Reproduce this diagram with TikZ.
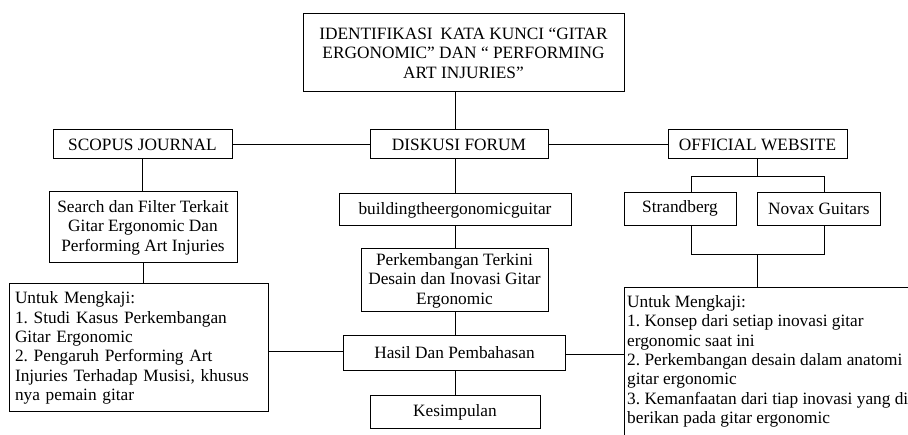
\documentclass[tikz,border=0pt]{standalone}
\usepackage{fontspec}
\setmainfont{Liberation Serif}
\usetikzlibrary{calc}
\newcommand\dfont{\fontsize{17.3}{19.4}\selectfont}
\frenchspacing
\begin{document}
\begin{tikzpicture}[x=1pt,y=-1pt,
  box/.style={draw, line width=1pt, inner sep=0pt, align=center, font=\dfont},
  ln/.style={line width=1pt}]
\useasboundingbox (0,0) rectangle (908,435);
\fill[white] (0,0) rectangle (908,435);
\clip (0,0) rectangle (908,435);

% nodes
\node[box, minimum width=321pt, minimum height=78pt] (top) at (463.5,53)
  {IDENTIFIKASI\hspace{0.2em} KATA KUNCI “GITAR\\ERGONOMIC” DAN “ PERFORMING\\ART INJURIES”};
\node[box, minimum width=179pt, minimum height=29pt] (scopus) at (142.5,144.5) {SCOPUS JOURNAL};
\node[box, minimum width=178pt, minimum height=29pt] (diskusi) at (459,144.5) {DISKUSI FORUM};
\node[box, minimum width=179pt, minimum height=29pt] (official) at (757.5,144.5) {OFFICIAL WEBSITE};
\node[box, minimum width=188pt, minimum height=71pt] (search) at (143,227.5)
  {Search dan Filter Terkait\\Gitar Ergonomic Dan\\Performing Art Injuries};
\node[box, align=left, text width=247pt, minimum width=259pt, minimum height=128pt] (leftu) at (138.5,348)
  {Untuk Mengkaji:\\1. Studi Kasus Perkembangan\\Gitar Ergonomic\\2. Pengaruh Performing Art\\Injuries Terhadap Musisi, khusus\\nya pemain gitar};
\node[box, minimum width=232pt, minimum height=32pt] (build) at (455,210) {buildingtheergonomicguitar};
\node[box, minimum width=187pt, minimum height=63pt] (perk) at (454.5,280.5)
  {Perkembangan Terkini\\Desain dan Inovasi Gitar\\Ergonomic};
\node[box, minimum width=222pt, minimum height=34.5pt] (hasil) at (454.5,352.9) {Hasil Dan Pembahasan};
\node[box, minimum width=170pt, minimum height=33pt] (kes) at (455,412.5) {Kesimpulan};
\node[box, minimum width=112pt, minimum height=33pt] (strand) at (680,208.7) {Strandberg};
\node[box, minimum width=123pt, minimum height=33pt] (novax) at (818.8,208.7) {Novax Guitars};
\node[box, anchor=north west, minimum width=330pt, minimum height=190pt] (rbox) at (624,287.5) {};
\node[anchor=north west, align=left, inner sep=0pt, font=\dfont] (rtext) at (627,295)
  {Untuk Mengkaji:\\1. Konsep dari setiap inovasi gitar\\ergonomic saat ini\\2. Perkembangan desain dalam anatomi\\gitar ergonomic\\3. Kemanfaatan dari tiap inovasi yang di\\berikan pada gitar ergonomic};

% helper coordinates
\coordinate (col) at (455,0);
\coordinate (sx) at (691,0);
\coordinate (nx) at (824.3,0);
\coordinate (j1) at (757.5,176.7);
\coordinate (j2) at (757.5,254.3);

% connectors
\draw[ln] (scopus) -- (diskusi);
\draw[ln] (diskusi) -- (official);
\draw[ln] (scopus.south) -- (scopus.south |- search.north);
\draw[ln] (search.south) -- (search.south |- leftu.north);
\draw[ln] (top.south -| col) -- (diskusi.north -| col);
\draw[ln] (diskusi.south -| col) -- (build.north -| col);
\draw[ln] (build.south -| col) -- (perk.north -| col);
\draw[ln] (perk.south -| col) -- (hasil.north -| col);
\draw[ln] (hasil.south -| col) -- (kes.north -| col);
\draw[ln] ([yshift=1.8pt]hasil.west) -- ([yshift=1.8pt]hasil.west -| leftu.east);
\draw[ln] ([yshift=-1.5pt]hasil.east) -- ([yshift=-1.5pt]hasil.east -| rbox.west);
\draw[ln] (official.south) -- (j1);
\draw[ln] (sx |- strand.north) -- (sx |- j1) -- (nx |- j1) -- (nx |- novax.north);
\draw[ln] (sx |- strand.south) -- (sx |- j2) -- (nx |- j2) -- (nx |- novax.south);
\draw[ln] (j2) -- (j2 |- rbox.north);
\end{tikzpicture}
\end{document}
